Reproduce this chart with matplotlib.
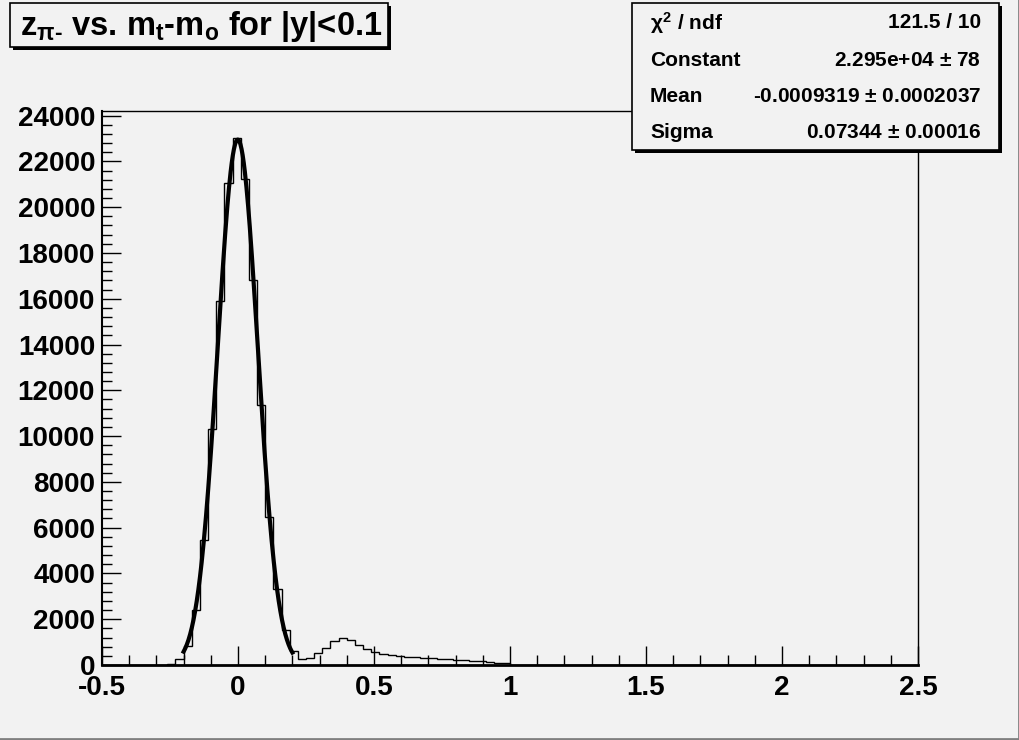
import numpy as np
import matplotlib
matplotlib.use("Agg")
import matplotlib.pyplot as plt
from matplotlib.patches import Rectangle
from matplotlib.ticker import MultipleLocator

plt.rcParams["font.family"] = ["Liberation Sans", "DejaVu Sans"]
plt.rcParams["font.weight"] = "bold"
plt.rcParams["mathtext.fontset"] = "custom"
plt.rcParams["mathtext.rm"] = "Liberation Sans:bold"
plt.rcParams["mathtext.it"] = "Liberation Sans:bold"
plt.rcParams["mathtext.bf"] = "Liberation Sans:bold"

# histogram: 100 bins from -0.5 to 2.5
x_lo, x_hi, n_bins = -0.5, 2.5, 100
counts = [
    0, 0, 0, 0, 0, 0, 0, 15, 60, 250,
    830, 2400, 5450, 10300, 15900, 21050, 23000, 21250, 16800, 11350,
    6470, 3300, 1530, 620, 260, 305, 510, 730, 1050, 1165,
    1090, 870, 700, 555, 465, 420, 380, 350, 330, 310,
    290, 270, 250, 225, 210, 190, 160, 130, 100, 75,
    20, 15, 5, 0, 0, 0, 0, 20, 20, 20,
    20, 20, 20, 20, 20, 5, 0, 20, 20, 20,
    0, 0, 0, 0, 0, 0, 0, 0, 0, 0,
    0, 0, 0, 0, 0, 0, 0, 0, 0, 0,
    0, 0, 0, 0, 0, 0, 0, 0, 0, 0,
]

# gaussian fit result (from the stats box)
fit_const = 2.295e4
fit_mean = -0.0009319
fit_sigma = 0.07344
fit_range = (-0.2, 0.2)

stats_rows = [
    (r"$\chi^2$ / ndf", "121.5 / 10"),
    ("Constant", r"2.295e+04 $\pm$ 78"),
    ("Mean", r"-0.0009319 $\pm$ 0.0002037"),
    ("Sigma", r"0.07344 $\pm$ 0.00016"),
]
title = r"z$_{\pi\text{-}}$ vs. m$_\text{t}$-m$_\text{o}$ for |y|<0.1"

bg = "#f2f2f2"
W, H = 1020, 740
fig = plt.figure(figsize=(W / 100, H / 100), dpi=100, facecolor=bg)
ax = fig.add_axes([102 / W, 1 - 665 / H, 816 / W, 554 / H], facecolor=bg)

edges = np.linspace(x_lo, x_hi, n_bins + 1)
ax.stairs(counts, edges, color="black", lw=1.0, baseline=None)

xf = np.linspace(fit_range[0], fit_range[1], 200)
yf = fit_const * np.exp(-0.5 * ((xf - fit_mean) / fit_sigma) ** 2)
ax.plot(xf, yf, color="black", lw=3.0)

ax.set_xlim(x_lo, x_hi)
ax.set_ylim(0, 24200)
ax.xaxis.set_major_locator(MultipleLocator(0.5))
ax.xaxis.set_minor_locator(MultipleLocator(0.1))
ax.yaxis.set_major_locator(MultipleLocator(2000))
ax.yaxis.set_minor_locator(MultipleLocator(400))
ax.set_xticklabels([f"{v:g}" for v in ax.get_xticks()])
ax.tick_params(which="both", direction="in", top=False, right=False,
               labelsize=20, width=1.0, color="black")
ax.tick_params(axis="x", which="major", length=14, pad=7)
ax.tick_params(axis="x", which="minor", length=7)
ax.tick_params(axis="y", which="major", length=14, pad=5)
ax.tick_params(axis="y", which="minor", length=7)
for s in ax.spines.values():
    s.set_linewidth(1.0)
ax.spines["bottom"].set_linewidth(2.0)
ax.spines["left"].set_linewidth(1.5)


def pave(x0, y0, x1, y1, shadow=3):
    # ROOT-style pave with drop shadow, pixel coords from top-left
    fig.patches.append(Rectangle(((x0 + shadow) / W, 1 - (y1 + shadow) / H), (x1 - x0) / W, (y1 - y0) / H,
                                 transform=fig.transFigure, facecolor="black", edgecolor="none"))
    fig.patches.append(Rectangle((x0 / W, 1 - y1 / H), (x1 - x0) / W, (y1 - y0) / H,
                                 transform=fig.transFigure, facecolor=bg, edgecolor="black", lw=1.2))


pave(10, 3, 388, 47)
fig.text(201 / W, 1 - 27 / H, title, ha="center", va="center", fontsize=23.5, fontweight="bold")

pave(632, 3, 999, 150)
row_y = [23, 60, 97, 133]
for (lab, val), yy in zip(stats_rows, row_y):
    fig.text(650 / W, 1 - yy / H, lab, ha="left", va="center", fontsize=15, fontweight="bold")
    fig.text(981 / W, 1 - yy / H, val, ha="right", va="center", fontsize=15, fontweight="bold")

# canvas bevel
fig.add_artist(plt.Line2D([1 - 1 / W, 1 - 1 / W], [0, 1], transform=fig.transFigure, color="#808080", lw=2))
fig.add_artist(plt.Line2D([0, 1], [1 / H, 1 / H], transform=fig.transFigure, color="#808080", lw=2))

fig.savefig("out.png", dpi=100, facecolor=bg)
